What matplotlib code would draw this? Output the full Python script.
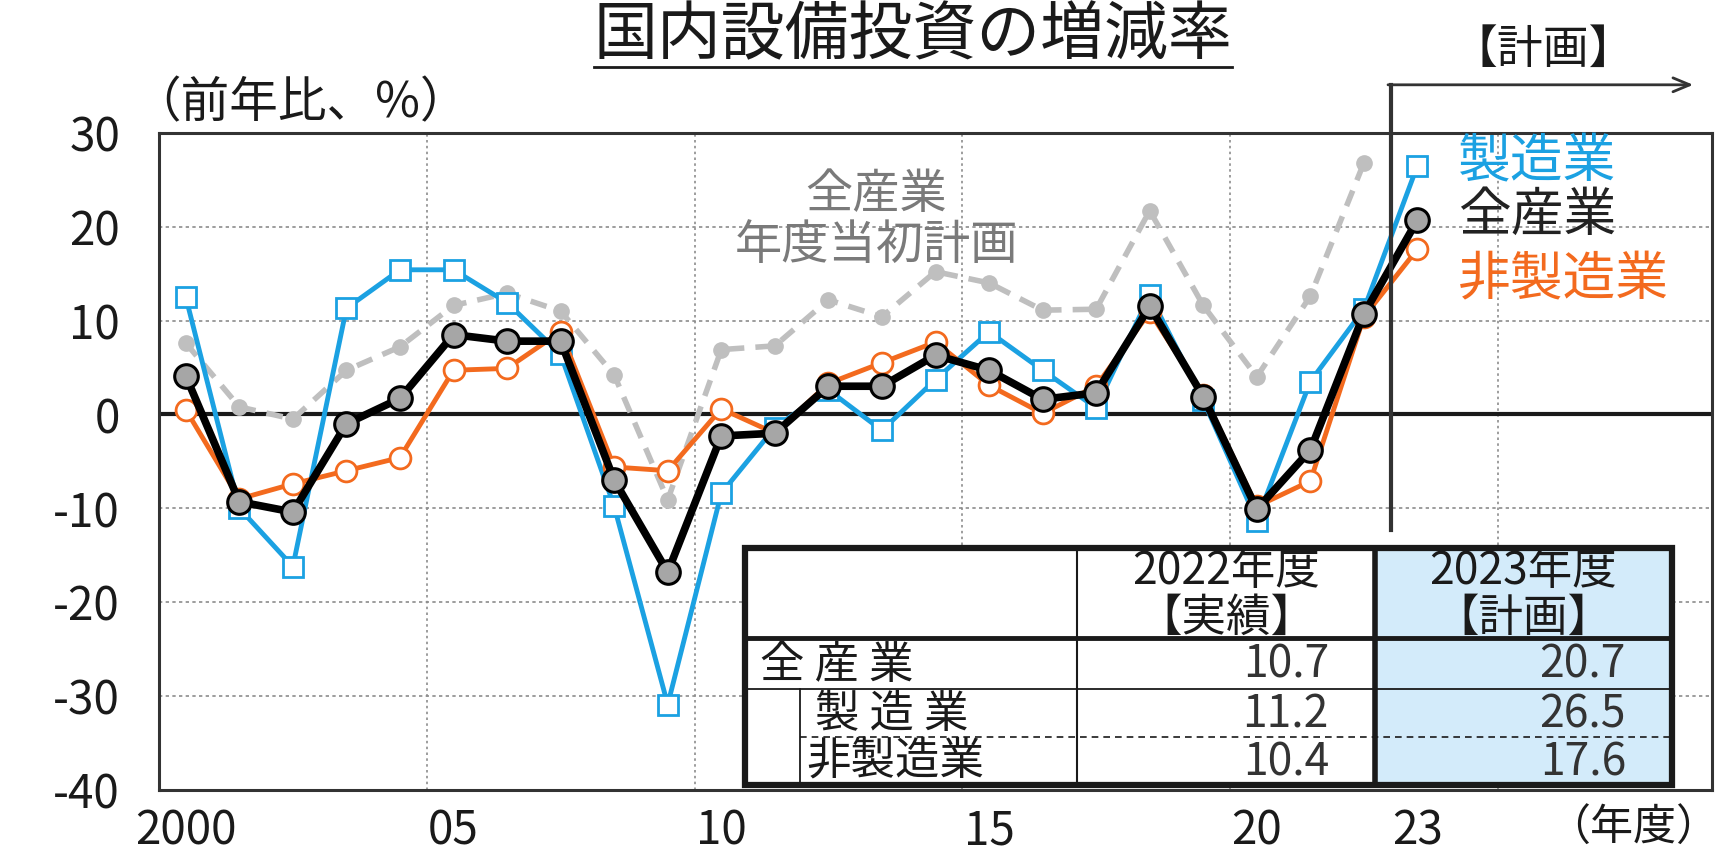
import matplotlib
matplotlib.use("Agg")
import matplotlib.pyplot as plt
import numpy as np
from matplotlib.patches import Rectangle
from matplotlib.lines import Line2D

plt.rcParams['font.family'] = ['Noto Sans CJK JP', 'DejaVu Sans']

# ---------------- data ----------------
years = list(range(2000, 2024))
all_industries = [4.1, -9.3, -10.4, -1.0, 1.7, 8.5, 7.8, 7.8, -7.0, -16.8, -2.3, -2.0,
                  3.0, 3.0, 6.3, 4.7, 1.6, 2.3, 11.5, 1.9, -10.1, -3.8, 10.7, 20.7]
manufacturing = [12.5, -10.0, -16.2, 11.3, 15.4, 15.4, 11.9, 6.4, -9.8, -30.9, -8.4, -1.4,
                 2.6, -1.7, 3.7, 8.8, 4.7, 0.7, 12.7, 1.5, -11.3, 3.5, 11.2, 26.5]
non_manufacturing = [0.5, -9.0, -7.4, -6.0, -4.6, 4.7, 4.9, 8.8, -5.6, -6.0, 0.6, -2.0,
                     3.3, 5.5, 7.7, 3.1, 0.1, 3.0, 10.9, 2.1, -9.8, -7.1, 10.4, 17.6]
initial_plan = [7.6, 0.8, -0.5, 4.7, 7.2, 11.6, 12.9, 11.0, 4.2, -9.1, 6.9, 7.3,
                12.2, 10.4, 15.2, 14.0, 11.1, 11.2, 21.7, 11.6, 4.0, 12.6, 26.8, np.nan]

xtick_years = [2000, 2005, 2010, 2015, 2020, 2023]
xtick_labels = ["2000", "05", "10", "15", "20", "23"]
yticks = [30, 20, 10, 0, -10, -20, -30, -40]
ytick_labels = ["30", "20", "10", "0", "-10", "-20", "-30", "-40"]

table_col_year = ["2022年度", "2023年度"]
table_col_kind = ["【実績】", "【計画】"]
table_rows = ["全 産 業", "製 造 業", "非製造業"]
table_2022 = [10.7, 11.2, 10.4]
table_2023 = [20.7, 26.5, 17.6]

# ---------------- style ----------------
BLUE = '#1BA1E2'
ORANGE = '#F36A1E'
GRAY = '#BFBFBF'
DARK = '#222222'
W, H = 1719, 852

fig = plt.figure(figsize=(W / 100, H / 100), dpi=100)
ax = fig.add_axes([159 / W, 1 - 790 / H, (1712 - 159) / W, (790 - 132.7) / H])

x = np.arange(len(years))
ax.plot(x, initial_plan, color=GRAY, lw=4, dashes=(3, 2), marker='o', ms=11,
        mfc=GRAY, mec=GRAY, zorder=2)
ax.plot(x, manufacturing, color=BLUE, lw=3.5, marker='s', ms=15, mfc='white', mec=BLUE,
        mew=2, zorder=3)
ax.plot(x, non_manufacturing, color=ORANGE, lw=3.5, marker='o', ms=15, mfc='white',
        mec=ORANGE, mew=2, zorder=4)
ax.plot(x, all_industries, color='black', lw=5.5, marker='o', ms=17, mfc='#A6A6A6',
        mec='black', mew=2.2, zorder=5)

ax.set_xlim(-0.5, 28.5)
ax.set_ylim(-40, 30)
ax.set_xticks([years.index(y) for y in xtick_years])
ax.set_xticklabels(xtick_labels)
ax.set_yticks(yticks)
ax.set_yticklabels(ytick_labels)
ax.tick_params(axis='both', length=0, labelsize=33, colors='#1a1a1a')
ax.tick_params(axis='x', pad=12)
ax.tick_params(axis='y', pad=28)

for yv in [-30, -20, -10, 10, 20]:
    ax.axhline(yv, color='#8c8c8c', lw=1.2, ls=(0, (2, 2)), zorder=1)
for xv in [4.5, 9.5, 14.5, 19.5, 24.5]:
    ax.axvline(xv, color='#8c8c8c', lw=1.2, ls=(0, (1.5, 2)), zorder=1)
ax.axhline(0, color='#1a1a1a', lw=3, zorder=1.5)
for s in ax.spines.values():
    s.set_color('#333333')
    s.set_linewidth(2.2)

# plan boundary line and arrow
ax.plot([22.5, 22.5], [-12.3, 35.1], color='#333333', lw=3, clip_on=False, zorder=6)
ax.annotate('', xy=(28.15, 35.1), xytext=(22.45, 35.1),
            arrowprops=dict(arrowstyle='->,head_length=1.2,head_width=0.5', lw=2,
                            color='#333333', shrinkA=0, shrinkB=0),
            annotation_clip=False)
ax.text(25.35, 38.8, "【計画】", fontsize=33, ha='center', va='center', color='#1a1a1a')

# series labels
ax.text(23.75, 26.9, "製造業", color=BLUE, fontsize=38, ha='left', va='center')
ax.text(23.75, 21.2, "全産業", color=DARK, fontsize=38, ha='left', va='center')
ax.text(23.75, 14.3, "非製造業", color=ORANGE, fontsize=38, ha='left', va='center')
ax.text(12.9, 20.7, "全産業\n年度当初計画", color='#7a7a7a', fontsize=34, ha='center',
        va='center', multialignment='center', linespacing=1.05)

# ---------------- overlay in pixel coords ----------------
ov = fig.add_axes([0, 0, 1, 1], zorder=10)
ov.set_xlim(0, W)
ov.set_ylim(H, 0)
ov.axis('off')
ov.patch.set_visible(False)

title = ov.text(913, 36, "国内設備投資の増減率", fontsize=46, ha='center', va='center',
                color='#1a1a1a')
ov.text(300, 104, "（前年比、%）", fontsize=35, ha='center', va='center', color='#1a1a1a')
ov.text(1633, 829, "（年度）", fontsize=31, ha='center', va='center', color='#1a1a1a')

# underline of title
fig.canvas.draw()
bb = title.get_window_extent()
ov.plot([bb.x0, bb.x1], [67, 67], color='#1a1a1a', lw=2)

# table
tl, c1, c2, tr = 745, 1077, 1375, 1672
tt, hb, r1, r2, tb = 548, 638, 689, 737, 785
indent = 800
ov.add_patch(Rectangle((tl, tt), tr - tl, tb - tt, facecolor='white', edgecolor='none', zorder=1))
ov.add_patch(Rectangle((c2, tt), tr - c2, tb - tt, facecolor='#D3EBFA', edgecolor='none', zorder=1.1))
lc = '#1a1a1a'
ov.add_line(Line2D([tl, tr], [r1, r1], color=lc, lw=1.3, zorder=2))
ov.add_line(Line2D([indent, tr], [r2, r2], color=lc, lw=1.2, ls=(0, (4, 3)), zorder=2))
ov.add_line(Line2D([indent, indent], [r1, tb], color=lc, lw=1.3, zorder=2))
ov.add_line(Line2D([c1, c1], [tt, tb], color=lc, lw=1.5, zorder=2))
ov.add_line(Line2D([c2, c2], [tt, tb], color=lc, lw=4, zorder=3))
ov.add_line(Line2D([tl, tr], [hb, hb], color=lc, lw=3.5, zorder=3))
ov.add_patch(Rectangle((tl, tt), tr - tl, tb - tt, facecolor='none', edgecolor=lc, lw=4.5, zorder=4))

TFS = 32
for cx, yr, kd in [((c1 + c2) / 2, table_col_year[0], table_col_kind[0]),
                   ((c2 + tr) / 2, table_col_year[1], table_col_kind[1])]:
    ov.text(cx, 571, yr, fontsize=TFS, ha='center', va='center', zorder=5, color='#1a1a1a')
    ov.text(cx, 618, kd, fontsize=TFS, ha='center', va='center', zorder=5, color='#1a1a1a')
row_y = [(hb + r1) / 2 + 1, (r1 + r2) / 2 + 1, (r2 + tb) / 2 + 1]
row_x = [760, 815, 806]
for i in range(3):
    ov.text(row_x[i], row_y[i], table_rows[i], fontsize=TFS, ha='left', va='center', zorder=5,
            color='#1a1a1a')
    ov.text(c2 - 46, row_y[i], f"{table_2022[i]:.1f}", fontsize=TFS, ha='right', va='center',
            color='#333333', zorder=5)
    ov.text(tr - 46, row_y[i], f"{table_2023[i]:.1f}", fontsize=TFS, ha='right', va='center',
            color='#333333', zorder=5)

fig.savefig("out.png", dpi=100)
